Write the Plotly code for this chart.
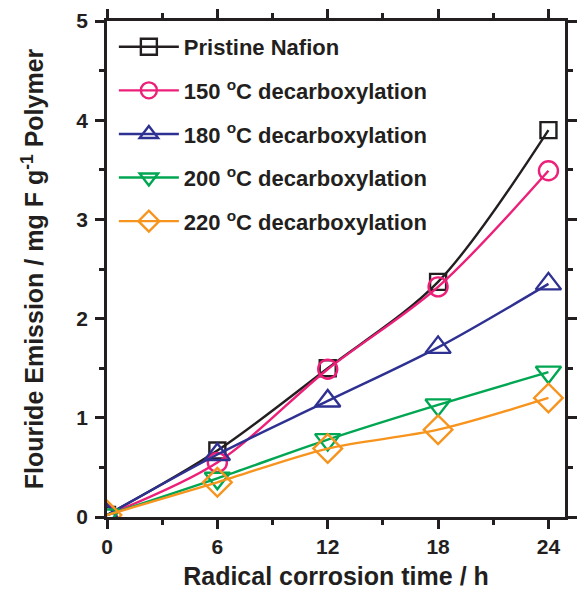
import plotly.graph_objects as go

time_h = [0, 6, 12, 18, 24]
pristine = [0.02, 0.67, 1.50, 2.37, 3.90]
dec150 = [0.02, 0.55, 1.49, 2.32, 3.49]
dec180 = [0.02, 0.63, 1.17, 1.71, 2.35]
dec200 = [0.02, 0.39, 0.78, 1.13, 1.46]
dec220 = [0.02, 0.35, 0.69, 0.88, 1.20]

names = ["Pristine Nafion",
         "150 <sup>o</sup>C decarboxylation",
         "180 <sup>o</sup>C decarboxylation",
         "200 <sup>o</sup>C decarboxylation",
         "220 <sup>o</sup>C decarboxylation"]
series = [pristine, dec150, dec180, dec200, dec220]
colors = ["#231f20", "#ec1f79", "#2e3192", "#00a651", "#f7941d"]
symbols = ["square-open", "circle-open", "triangle-up-open", "triangle-down-open", "diamond-open"]
sizes = [16, 19, 22, 22, 22]

FONT = "Liberation Sans, Arial, sans-serif"

fig = go.Figure()
for i, (n, s) in enumerate(zip(names, series)):
    fig.add_trace(go.Scatter(
        x=time_h, y=s, name=n, mode="lines+markers",
        legendgroup=f"g{i}",
        line=dict(color=colors[i], width=2.4, shape="spline", smoothing=0.9),
        marker=dict(symbol=symbols[i], size=sizes[i], color=colors[i],
                    line=dict(color=colors[i], width=2.4)),
    ))

axis_common = dict(
    showline=True, linecolor="#231f20", linewidth=2.5, mirror="allticks",
    ticks="outside", tickcolor="#231f20", tickwidth=2.5, ticklen=9,
    showgrid=False, zeroline=False,
    tickfont=dict(family=FONT, size=21, color="#231f20", weight="bold"),
)

fig.update_xaxes(
    range=[0, 24.9], tickvals=[0, 6, 12, 18, 24],
    minor=dict(tickvals=[3, 9, 15, 21], ticklen=5, tickwidth=2.5, tickcolor="#231f20", ticks="outside"),
    title=dict(text="<b>Radical corrosion time / h</b>",
               font=dict(family=FONT, size=25, color="#231f20"), standoff=12),
    **axis_common,
)
fig.update_yaxes(
    range=[0, 5], tickvals=[0, 1, 2, 3, 4, 5],
    minor=dict(tickvals=[0.5, 1.5, 2.5, 3.5, 4.5], ticklen=5, tickwidth=2.5, tickcolor="#231f20", ticks="outside"),
    ticklabelstandoff=3,
    title=dict(text="<b>Flouride Emission / mg F g<sup>-1</sup> Polymer</b>",
               font=dict(family=FONT, size=25, color="#231f20"), standoff=26),
    **axis_common,
)

fig.update_layout(
    width=579, height=590,
    margin=dict(l=107, r=2, t=21, b=73),
    paper_bgcolor="white", plot_bgcolor="white",
    showlegend=True,
    legend=dict(
        x=0.015, y=0.99, xanchor="left", yanchor="top",
        bgcolor="rgba(0,0,0,0)", borderwidth=0,
        font=dict(family=FONT, size=22, color="#231f20", weight="bold"),
        itemwidth=60, traceorder="grouped", tracegroupgap=12,
    ),
)

fig.write_html("out.html")
